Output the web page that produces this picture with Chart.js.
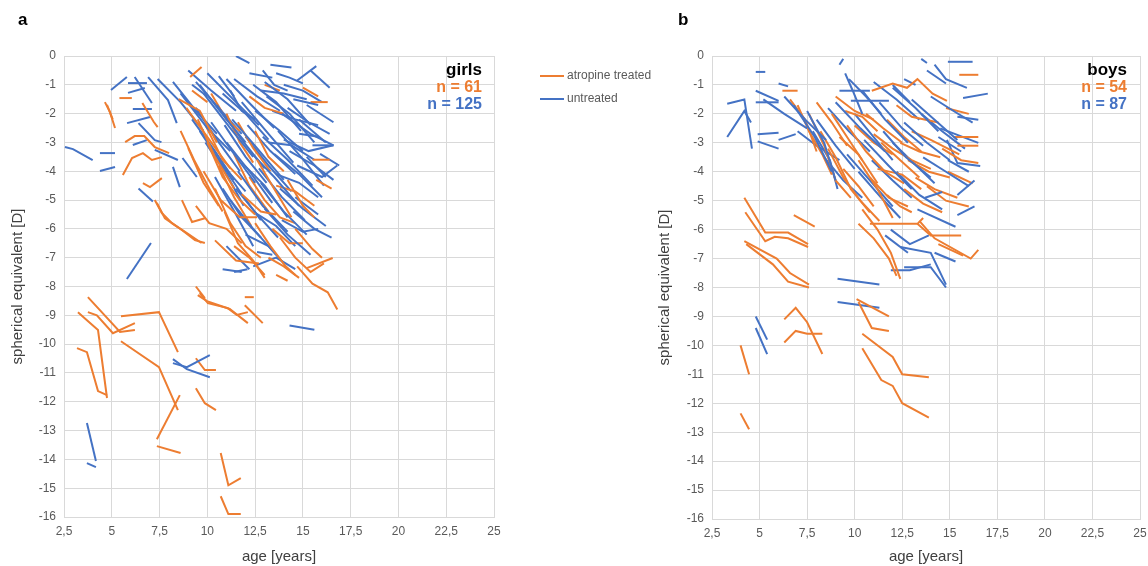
<!DOCTYPE html>
<html>
<head>
<meta charset="utf-8">
<script src="https://cdn.jsdelivr.net/npm/chart.js@4.4.1/dist/chart.umd.min.js"></script>
<style>
  html, body { margin: 0; padding: 0; background: #fff; overflow: hidden; }
  #wrap { position: relative; width: 1148px; height: 566px; font-family: "Liberation Sans", Arial, sans-serif; }
  canvas { position: absolute; top: 0; }
  .lbl { position: absolute; font-weight: bold; white-space: nowrap; }
  .panel { font-size: 17px; color: #000; }
  .note { font-size: 16px; text-align: right; line-height: 17px; }
  .leg { position: absolute; font-size: 12px; color: #595959; white-space: nowrap; }
  .leg span { display: inline-block; width: 24px; height: 2px; vertical-align: middle; margin-right: 3px; }
</style>
</head>
<body>
<div id="wrap">
  <canvas id="girls" width="510" height="566" style="left:0px"></canvas>
  <canvas id="boys" width="510" height="566" style="left:646px"></canvas>

  <div class="lbl panel" style="left:18px; top:10px">a</div>
  <div class="lbl panel" style="left:678px; top:10px">b</div>

  <div class="lbl note" style="right:666px; top:61px; width:80px">
    <div style="color:#000; font-size:17px">girls</div>
    <div style="color:#ED7D31">n = 61</div>
    <div style="color:#4472C4">n = 125</div>
  </div>
  <div class="lbl note" style="right:21px; top:61px; width:80px">
    <div style="color:#000; font-size:17px">boys</div>
    <div style="color:#ED7D31">n = 54</div>
    <div style="color:#4472C4">n = 87</div>
  </div>

  <div class="leg" style="left:540px; top:68px"><span style="background:#ED7D31"></span>atropine treated</div>
  <div class="leg" style="left:540px; top:91px"><span style="background:#4472C4"></span>untreated</div>
</div>

<script>
// tick values
const ageTicks = [2.5, 5, 7.5, 10, 12.5, 15, 17.5, 20, 22.5, 25];
const seTicks = [0, -1, -2, -3, -4, -5, -6, -7, -8, -9, -10, -11, -12, -13, -14, -15, -16];

// each entry = one child, points are [age, spherical equivalent]
const girlsAtropine = [
  [[4.64,-1.6],[4.9,-1.94],[5.17,-2.5]],
  [[4.75,-1.7],[5.05,-2.2]],
  [[5.4,-1.46],[6.05,-1.46]],
  [[6.6,-1.63],[7.2,-2.29],[7.4,-2.47]],
  [[5.7,-2.99],[6.2,-2.78],[6.7,-2.78],[7.25,-3.16],[8.0,-3.37]],
  [[5.58,-4.13],[6.06,-3.54],[6.63,-3.37],[7.1,-3.61],[7.62,-3.51]],
  [[6.63,-4.41],[7.0,-4.55],[7.62,-4.24]],
  [[7.25,-5.0],[7.62,-5.45],[8.15,-5.8],[8.67,-6.04],[9.35,-6.39],[9.87,-6.49]],
  [[7.36,-5.1],[7.78,-5.63],[8.3,-5.87],[8.93,-6.15],[9.7,-6.49]],
  [[8.67,-5.0],[9.2,-5.76],[9.87,-5.63]],
  [[9.1,-0.73],[9.7,-0.38]],
  [[9.4,-8.0],[9.87,-8.4]],
  [[3.75,-8.37],[5.43,-9.58],[6.21,-9.51]],
  [[3.75,-8.89],[4.22,-9.0],[5.06,-9.62],[6.21,-9.27]],
  [[3.23,-8.89],[3.7,-9.17],[4.28,-9.51],[4.75,-11.87]],
  [[3.18,-10.14],[3.7,-10.28],[4.28,-11.63],[4.75,-11.77]],
  [[5.48,-9.03],[7.47,-8.89],[8.46,-10.28]],
  [[5.48,-9.9],[7.47,-10.8],[8.46,-12.29]],
  [[7.36,-13.3],[8.56,-11.77]],
  [[7.36,-13.54],[8.6,-13.78]],
  [[9.4,-10.49],[9.87,-10.9],[10.45,-10.9]],
  [[9.4,-11.53],[9.87,-12.05],[10.45,-12.29]],
  [[10.7,-13.78],[11.1,-14.9],[11.75,-14.65]],
  [[10.7,-15.28],[11.1,-15.9],[11.75,-15.9]],
  [[9.6,-8.23],[10.03,-8.58],[11.07,-8.75],[11.54,-8.99],[12.12,-8.89]],
  [[9.5,-8.3],[9.98,-8.51],[11.17,-8.78],[12.12,-9.27]],
  [[11.96,-8.37],[12.43,-8.37]],
  [[11.96,-8.65],[12.9,-9.27]],
  [[15.2,-7.36],[16.56,-7.01]],
  [[8.9,-1.8],[10.1,-2.9],[11.2,-3.9]],
  [[8.5,-1.5],[9.6,-1.9],[10.5,-3.0]],
  [[9.2,-1.2],[10.0,-1.6]],
  [[9.5,-2.2],[10.4,-3.5],[11.4,-4.6]],
  [[10.0,-3.0],[10.8,-4.2],[11.7,-5.0],[12.5,-5.5]],
  [[9.8,-4.0],[10.7,-5.0],[11.7,-5.6],[12.6,-5.6]],
  [[10.4,-4.6],[11.2,-5.8],[12.0,-6.6],[12.8,-7.0]],
  [[10.9,-5.4],[11.6,-6.5],[12.4,-7.1],[13.0,-7.7]],
  [[9.4,-5.2],[10.1,-5.8],[11.0,-6.0],[11.8,-6.5]],
  [[11.8,-4.8],[12.8,-5.4],[13.6,-5.5]],
  [[12.5,-5.8],[13.3,-6.6],[14.1,-7.3],[14.6,-7.6]],
  [[13.2,-7.0],[14.0,-7.3],[14.8,-7.7]],
  [[12.6,-3.6],[13.4,-4.5],[14.4,-5.6]],
  [[11.0,-2.0],[11.7,-3.0],[12.4,-3.7]],
  [[10.2,-1.3],[11.0,-2.2],[11.7,-2.6]],
  [[12.5,-2.6],[13.2,-3.5],[14.0,-4.0]],
  [[14.2,-4.3],[15.0,-5.2],[15.6,-5.6]],
  [[14.6,-6.0],[15.5,-6.7],[16.0,-7.0]],
  [[13.8,-6.3],[14.6,-7.0],[15.4,-7.5],[16.1,-7.2]],
  [[14.7,-7.3],[15.5,-7.9],[16.3,-8.2],[16.8,-8.8]],
  [[15.4,-1.6],[16.3,-1.6]],
  [[15.0,-1.1],[15.8,-1.4]],
  [[15.5,-3.6],[16.4,-3.6]],
  [[13.6,-4.5],[14.6,-4.7],[15.6,-5.2]],
  [[15.7,-4.3],[16.5,-4.6]],
  [[12.2,-1.4],[13.0,-1.8],[14.0,-2.0]],
  [[13.0,-1.0],[13.8,-1.2]],
  [[11.4,-6.6],[12.2,-7.0],[13.0,-7.6]],
  [[13.6,-7.6],[14.2,-7.8]],
  [[8.6,-2.6],[9.3,-3.6],[10.1,-4.6],[10.8,-5.4]],
  [[9.0,-3.2],[9.8,-4.4],[10.6,-5.2]],
  [[11.4,-3.4],[12.2,-4.5],[13.2,-5.4]],
  [[10.4,-6.4],[11.5,-7.1],[12.7,-7.2]],
  [[11.6,-2.3],[12.4,-3.2],[13.3,-4.0]],
  [[10.6,-3.8],[11.4,-4.9],[12.3,-5.9]],
  [[12.2,-4.2],[13.0,-5.0],[13.8,-5.6],[14.6,-5.8]],
  [[9.9,-2.4],[10.8,-3.6],[11.8,-4.3]],
  [[13.4,-6.0],[14.3,-6.5],[15.0,-6.5]]
];

const girlsUntreated = [
  [[2.55,-3.16],[2.97,-3.23],[4.0,-3.61]],
  [[4.38,-3.37],[5.17,-3.37]],
  [[4.38,-3.99],[5.17,-3.85]],
  [[4.96,-1.18],[5.79,-0.73]],
  [[5.85,-0.94],[6.84,-0.94]],
  [[6.2,-0.73],[7.1,-1.63]],
  [[6.9,-0.73],[7.94,-1.53],[8.4,-2.33]],
  [[5.85,-1.28],[6.73,-1.11]],
  [[6.1,-1.84],[7.1,-1.84]],
  [[5.8,-2.33],[7.0,-2.12]],
  [[6.4,-2.33],[7.25,-2.92],[7.6,-2.99]],
  [[6.1,-3.09],[6.83,-2.92]],
  [[7.25,-3.26],[8.46,-3.61]],
  [[6.4,-4.6],[7.15,-5.05]],
  [[8.2,-3.85],[8.56,-4.55]],
  [[8.7,-3.54],[9.45,-4.2]],
  [[5.79,-7.74],[7.05,-6.49]],
  [[8.2,-10.52],[8.93,-10.87],[10.13,-11.15]],
  [[8.2,-10.66],[8.93,-10.8],[10.13,-10.38]],
  [[3.7,-12.74],[4.17,-14.06]],
  [[3.7,-14.13],[4.17,-14.27]],
  [[14.3,-9.35],[15.6,-9.5]],
  [[9.6,-1.0],[11.0,-2.2],[12.0,-3.0]],
  [[10.0,-0.6],[11.5,-1.6],[12.7,-2.4]],
  [[11.5,0.0],[12.2,-0.25]],
  [[12.2,-0.6],[13.4,-0.75]],
  [[13.3,-0.3],[14.4,-0.4]],
  [[13.6,-0.6],[14.3,-0.75],[15.0,-0.95]],
  [[14.7,-0.85],[15.7,-0.35]],
  [[13.0,-0.9],[14.2,-1.5],[15.4,-2.4]],
  [[12.4,-1.0],[13.6,-1.6],[14.9,-2.6]],
  [[11.0,-0.8],[12.3,-1.7],[13.5,-2.5]],
  [[9.8,-1.3],[11.2,-2.5],[12.4,-3.5]],
  [[8.2,-0.9],[9.4,-1.9],[10.5,-2.7]],
  [[7.4,-0.8],[8.6,-1.6],[9.8,-2.6]],
  [[8.6,-1.3],[10.0,-2.5],[11.2,-3.3]],
  [[14.5,-1.5],[15.8,-1.7]],
  [[15.2,-1.7],[16.6,-2.3]],
  [[14.8,-2.2],[16.2,-3.0]],
  [[13.9,-2.0],[15.4,-2.7],[16.6,-3.1]],
  [[12.5,-1.9],[13.8,-2.6],[15.0,-3.3]],
  [[11.8,-1.6],[13.2,-2.7],[14.5,-3.7]],
  [[10.5,-1.7],[11.8,-2.9],[13.0,-3.9]],
  [[9.4,-1.8],[10.6,-3.0],[11.7,-4.0]],
  [[10.2,-2.3],[11.4,-3.4],[12.5,-4.4]],
  [[11.3,-2.2],[12.6,-3.2],[14.0,-4.3]],
  [[12.9,-2.8],[14.2,-3.6],[15.5,-4.5]],
  [[14.0,-2.9],[15.3,-3.3],[16.6,-3.1]],
  [[15.5,-3.1],[16.6,-3.1]],
  [[14.7,-3.8],[16.0,-4.2],[16.8,-3.8]],
  [[13.5,-3.4],[14.8,-4.1],[16.0,-4.9]],
  [[12.2,-3.3],[13.5,-4.2],[14.8,-5.2]],
  [[11.0,-3.0],[12.2,-4.0],[13.4,-5.1]],
  [[9.6,-2.6],[10.8,-3.8],[12.0,-4.7]],
  [[10.6,-3.6],[11.8,-4.8],[12.8,-5.7]],
  [[11.6,-4.0],[12.9,-5.2],[14.2,-6.1]],
  [[12.8,-4.4],[14.0,-5.4],[15.2,-6.2]],
  [[13.8,-4.6],[15.0,-5.3],[16.2,-5.9]],
  [[14.6,-4.9],[15.8,-5.5]],
  [[13.0,-5.3],[14.2,-6.2],[15.4,-6.9]],
  [[11.2,-5.0],[12.4,-6.0],[13.6,-6.9]],
  [[10.4,-4.2],[11.5,-5.5],[12.4,-6.6]],
  [[12.0,-6.2],[13.2,-6.6],[14.0,-7.2]],
  [[11.0,-6.6],[12.2,-7.4]],
  [[12.4,-7.3],[13.6,-7.0],[14.6,-7.4]],
  [[10.8,-7.4],[11.8,-7.5]],
  [[9.0,-0.5],[10.2,-1.2],[11.5,-1.9]],
  [[10.6,-0.7],[11.4,-1.4]],
  [[12.8,-1.2],[14.0,-1.3],[15.2,-1.5]],
  [[14.0,-1.0],[15.0,-1.2],[16.0,-1.6]],
  [[15.4,-0.5],[16.4,-1.1]],
  [[9.2,-2.2],[10.4,-3.3],[11.4,-4.3]],
  [[10.8,-1.3],[12.0,-2.0],[13.2,-2.9]],
  [[13.4,-1.9],[14.6,-2.2],[15.8,-2.4]],
  [[12.0,-2.8],[13.2,-3.8],[14.4,-4.7]],
  [[11.8,-3.7],[13.0,-4.5],[14.2,-5.6]],
  [[13.6,-4.1],[14.8,-4.4],[15.8,-4.9]],
  [[14.3,-3.3],[15.6,-3.8],[16.6,-4.3]],
  [[10.8,-4.6],[11.8,-5.6],[12.8,-6.3]],
  [[12.4,-5.4],[13.6,-5.9],[14.6,-6.6]],
  [[13.9,-5.7],[15.0,-6.1],[15.8,-6.0]],
  [[9.9,-3.0],[11.0,-4.1],[11.9,-5.2]],
  [[12.9,-0.5],[13.5,-1.0],[14.2,-1.2]],
  [[11.4,-0.8],[12.6,-1.4],[13.8,-1.9]],
  [[14.8,-2.7],[15.8,-2.8]],
  [[15.2,-3.5],[16.2,-4.2]],
  [[11.2,-1.2],[11.8,-1.9],[12.5,-2.2]],
  [[13.2,-3.0],[14.4,-3.1],[15.6,-3.6]],
  [[9.2,-1.0],[10.0,-1.4]],
  [[12.6,-6.8],[13.4,-6.9]],
  [[11.4,-7.5],[12.1,-7.4]],
  [[13.1,-1.4],[14.3,-2.0],[15.6,-3.0]],
  [[14.2,-1.8],[15.3,-2.3],[16.4,-2.7]],
  [[12.1,-2.4],[13.3,-3.3],[14.6,-4.1]],
  [[10.9,-2.4],[12.0,-3.5],[13.1,-4.4]],
  [[13.7,-2.6],[14.9,-3.5],[16.1,-4.5]],
  [[12.7,-3.9],[13.9,-4.9],[15.1,-5.7]],
  [[11.5,-4.6],[12.6,-5.5],[13.7,-6.3]],
  [[14.5,-5.4],[15.6,-6.0],[16.5,-6.3]],
  [[9.4,-0.9],[10.6,-1.8],[11.8,-2.7]],
  [[15.9,-3.4],[16.9,-3.8]]
];

const boysAtropine = [
  [[4.2,-4.9],[5.3,-6.1],[5.9,-6.1],[6.5,-6.1],[7.55,-6.5]],
  [[4.25,-5.4],[5.3,-6.4],[5.8,-6.25],[6.5,-6.3],[7.55,-6.6]],
  [[6.8,-5.5],[7.9,-5.9]],
  [[4.2,-6.4],[5.9,-7.0],[6.6,-7.5],[7.6,-7.9]],
  [[4.3,-6.5],[5.7,-7.2],[6.5,-7.8],[7.6,-8.0]],
  [[6.3,-9.1],[6.9,-8.7],[7.5,-9.2],[8.3,-10.3]],
  [[6.3,-9.9],[6.9,-9.5],[7.5,-9.6],[8.3,-9.6]],
  [[10.1,-8.4],[11.8,-9.0]],
  [[10.2,-8.5],[10.9,-9.4],[11.8,-9.5]],
  [[10.4,-9.6],[12.0,-10.4],[12.5,-11.0],[13.9,-11.1]],
  [[10.4,-10.1],[11.4,-11.2],[12.0,-11.4],[12.5,-12.0],[13.9,-12.5]],
  [[4.0,-10.0],[4.45,-11.0]],
  [[4.0,-12.35],[4.45,-12.9]],
  [[6.2,-1.2],[7.0,-1.2]],
  [[6.6,-1.5],[7.4,-2.2],[8.0,-3.3]],
  [[7.0,-1.7],[7.6,-2.6],[8.3,-3.4],[8.8,-4.1]],
  [[7.6,-2.0],[8.4,-3.1],[9.0,-4.3],[9.8,-4.9]],
  [[8.2,-2.6],[9.0,-3.5],[9.8,-4.6],[10.8,-5.4]],
  [[8.6,-3.2],[9.4,-4.2],[10.3,-5.0],[11.3,-5.7]],
  [[9.2,-2.8],[10.2,-3.4],[11.2,-4.4]],
  [[10.0,-2.4],[11.0,-3.0],[12.0,-3.4]],
  [[10.2,-3.6],[11.2,-4.6],[12.0,-5.6]],
  [[10.2,-5.8],[11.0,-6.3],[11.8,-7.0],[12.2,-7.6]],
  [[10.4,-5.3],[11.2,-6.0],[11.9,-6.8],[12.4,-7.7]],
  [[10.8,-5.8],[13.3,-5.8],[13.6,-5.6]],
  [[13.3,-5.8],[14.0,-6.2],[15.6,-6.2]],
  [[13.4,-5.7],[14.2,-6.3],[16.1,-7.0],[16.5,-6.7]],
  [[14.4,-6.5],[15.7,-6.9]],
  [[11.2,-3.9],[12.5,-4.1],[13.5,-4.6]],
  [[10.9,-1.2],[12.0,-0.95],[12.75,-1.1],[13.3,-0.8],[14.1,-1.3],[14.85,-1.55]],
  [[12.2,-1.7],[13.0,-2.1],[14.4,-2.3]],
  [[13.0,-2.6],[14.0,-2.9],[15.5,-3.4]],
  [[14.6,-3.2],[15.6,-3.6],[16.5,-3.7]],
  [[15.5,-0.65],[16.5,-0.65]],
  [[15.2,-2.8],[16.5,-2.8]],
  [[15.4,-3.1],[16.5,-3.1]],
  [[11.7,-2.2],[12.6,-2.8],[13.5,-3.3]],
  [[9.5,-1.9],[10.4,-2.1],[11.2,-2.6]],
  [[12.8,-3.6],[13.9,-4.0],[15.0,-4.2]],
  [[9.4,-3.9],[10.2,-4.5],[11.0,-5.2]],
  [[11.7,-4.8],[12.4,-5.2],[13.0,-5.4]],
  [[10.6,-2.0],[11.5,-2.5],[12.5,-3.0]],
  [[11.0,-2.7],[12.0,-3.2],[13.0,-3.6],[14.0,-3.9]],
  [[12.4,-3.0],[13.4,-3.3],[14.5,-3.5]],
  [[9.6,-2.4],[10.6,-3.3],[11.6,-4.0],[12.6,-4.4]],
  [[8.8,-2.0],[9.6,-2.8],[10.4,-3.6]],
  [[13.8,-4.5],[14.8,-5.0],[16.0,-5.2]],
  [[8.0,-1.6],[8.8,-2.3],[9.6,-3.1]],
  [[14.8,-1.8],[16.0,-2.0]],
  [[14.9,-4.0],[16.2,-4.4]],
  [[12.6,-4.6],[13.6,-5.1],[14.6,-5.4]],
  [[9.0,-1.4],[10.0,-1.9],[11.0,-2.2]],
  [[11.4,-3.0],[12.4,-3.6],[13.4,-4.2]],
  [[10.8,-4.2],[11.8,-4.9],[12.8,-5.2]],
  [[13.2,-4.2],[14.2,-4.6],[15.4,-4.9]]
];

const boysUntreated = [
  [[3.3,-1.65],[4.2,-1.5],[4.6,-3.2]],
  [[3.3,-2.8],[4.2,-1.9],[4.55,-2.3]],
  [[4.8,-0.55],[5.3,-0.55]],
  [[6.0,-0.95],[6.5,-1.05]],
  [[4.8,-1.2],[6.0,-1.55]],
  [[4.8,-1.6],[6.0,-1.6]],
  [[4.9,-2.7],[6.0,-2.65]],
  [[4.9,-2.95],[6.0,-3.2]],
  [[6.0,-2.9],[6.9,-2.7]],
  [[4.8,-9.0],[5.4,-9.8]],
  [[4.8,-9.4],[5.4,-10.3]],
  [[6.3,-1.4],[7.4,-2.2],[8.5,-2.9]],
  [[5.2,-1.5],[6.3,-2.0],[7.5,-2.5]],
  [[6.8,-1.7],[7.9,-2.8],[8.8,-4.0]],
  [[7.5,-1.9],[8.4,-3.0],[9.0,-4.3]],
  [[8.0,-2.2],[9.0,-3.1],[10.0,-3.9]],
  [[9.0,-1.6],[10.3,-2.5],[11.6,-3.3]],
  [[9.7,-0.8],[10.6,-1.4],[11.4,-2.0]],
  [[10.4,-1.2],[11.6,-2.2],[12.8,-3.0]],
  [[11.3,-1.6],[12.5,-2.5],[13.6,-3.1]],
  [[12.0,-1.1],[13.2,-1.8],[14.4,-2.6]],
  [[13.0,-1.5],[14.2,-2.2],[15.4,-2.9]],
  [[14.0,-1.4],[15.2,-1.9],[16.2,-2.3]],
  [[12.6,-2.3],[13.8,-3.0],[15.0,-3.6]],
  [[11.5,-2.6],[12.7,-3.5],[14.0,-4.2]],
  [[10.5,-2.9],[11.8,-3.8],[13.0,-4.6]],
  [[9.6,-3.4],[10.8,-4.3],[12.0,-5.2]],
  [[13.6,-3.5],[14.8,-4.0],[16.0,-4.5]],
  [[14.4,-2.8],[15.6,-3.3]],
  [[8.4,-3.5],[9.4,-4.3],[10.4,-4.9]],
  [[12.2,-4.0],[13.4,-4.8],[14.6,-5.3]],
  [[13.7,-4.9],[14.6,-4.7]],
  [[15.4,-4.8],[16.3,-4.3]],
  [[15.4,-5.5],[16.3,-5.2]],
  [[13.3,-5.3],[15.3,-5.9]],
  [[11.9,-6.0],[12.9,-6.5],[13.9,-6.2]],
  [[11.6,-6.2],[12.8,-6.8]],
  [[11.9,-7.4],[12.9,-7.4],[14.0,-7.2]],
  [[12.6,-7.3],[14.0,-7.3],[14.8,-8.0]],
  [[12.4,-6.6],[14.0,-6.8],[14.8,-7.9]],
  [[14.2,-6.8],[15.3,-7.1]],
  [[9.1,-7.7],[11.3,-7.9]],
  [[9.1,-8.5],[11.3,-8.7]],
  [[9.2,-0.3],[9.4,-0.1]],
  [[9.5,-0.6],[9.9,-1.2],[10.4,-2.0]],
  [[14.2,-0.3],[14.8,-0.8],[15.9,-1.1]],
  [[13.8,-0.5],[14.8,-0.95]],
  [[14.9,-0.2],[16.2,-0.2]],
  [[15.7,-1.45],[17.0,-1.3]],
  [[15.4,-2.1],[16.5,-2.2]],
  [[14.5,-2.5],[16.5,-3.0]],
  [[14.85,-2.9],[15.4,-3.7],[16.6,-3.8]],
  [[9.2,-1.2],[10.8,-1.2]],
  [[9.8,-1.55],[11.8,-1.55]],
  [[12.6,-0.8],[13.2,-1.0]],
  [[13.5,-0.1],[13.8,-0.24]],
  [[12.0,-1.0],[12.9,-1.6]],
  [[7.8,-2.6],[8.7,-3.6],[9.1,-4.6]],
  [[10.9,-3.6],[12.0,-4.3],[13.0,-4.9]],
  [[7.0,-2.6],[8.0,-3.1],[9.2,-3.6]],
  [[10.0,-2.0],[11.0,-2.8],[12.0,-3.6]],
  [[8.6,-1.8],[9.7,-2.6],[10.8,-3.3]],
  [[11.0,-0.9],[12.2,-1.5],[13.4,-2.2]],
  [[13.5,-2.0],[14.6,-2.6],[15.8,-3.2]],
  [[12.0,-3.0],[13.1,-3.7],[14.2,-4.4]],
  [[10.2,-4.0],[11.4,-4.9],[12.4,-5.6]],
  [[14.9,-3.6],[16.0,-4.0]]
];

const ORANGE = '#ED7D31';
const BLUE = '#4472C4';
const GRID = '#d9d9d9';

function toPoints(line) {
  return line.map(p => ({ x: p[0], y: p[1] }));
}

// interleave both groups so neither colour sits fully on top
function buildDatasets(treated, untreated) {
  const sets = [];
  const n = Math.max(treated.length, untreated.length);
  for (let i = 0; i < n; i++) {
    if (i < treated.length) sets.push({ data: toPoints(treated[i]), borderColor: ORANGE });
    if (i < untreated.length) sets.push({ data: toPoints(untreated[i]), borderColor: BLUE });
  }
  sets.forEach(s => {
    s.borderWidth = 2;
    s.pointRadius = 0;
    s.fill = false;
    s.tension = 0;
  });
  return sets;
}

function makePanel(id, treated, untreated, yWidth, xHeight, yTitlePad) {
  const ctx = document.getElementById(id).getContext('2d');
  return new Chart(ctx, {
    type: 'line',
    data: { datasets: buildDatasets(treated, untreated) },
    options: {
      responsive: false,
      animation: false,
      layout: { padding: { top: 56, right: 16, left: 0, bottom: 0 } },
      plugins: { legend: { display: false }, tooltip: { enabled: false } },
      scales: {
        x: {
          type: 'linear',
          min: 2.5,
          max: 25,
          afterBuildTicks: s => { s.ticks = ageTicks.map(v => ({ value: v })); },
          afterFit: s => { s.height = xHeight; },
          grid: { color: GRID, drawTicks: false },
          border: { color: GRID },
          ticks: {
            padding: 7,
            color: '#595959',
            font: { family: 'Liberation Sans', size: 12 },
            callback: v => String(v).replace('.', ',')
          },
          title: {
            display: true,
            text: 'age [years]',
            color: '#404040',
            font: { family: 'Liberation Sans', size: 15 },
            padding: { top: 0, bottom: 0 }
          }
        },
        y: {
          min: -16,
          max: 0,
          afterBuildTicks: s => { s.ticks = seTicks.map(v => ({ value: v })); },
          afterFit: s => { s.width = yWidth; },
          grid: { color: GRID, drawTicks: false },
          border: { color: GRID },
          ticks: {
            padding: 8,
            color: '#595959',
            font: { family: 'Liberation Sans', size: 12 }
          },
          title: {
            display: true,
            text: 'spherical equivalent [D]',
            color: '#404040',
            font: { family: 'Liberation Sans', size: 15 },
            padding: { top: yTitlePad, bottom: 0 }
          }
        }
      }
    }
  });
}

makePanel('girls', girlsAtropine, girlsUntreated, 64, 49, 9);
makePanel('boys', boysAtropine, boysUntreated, 66, 47, 10);
</script>
</body>
</html>
